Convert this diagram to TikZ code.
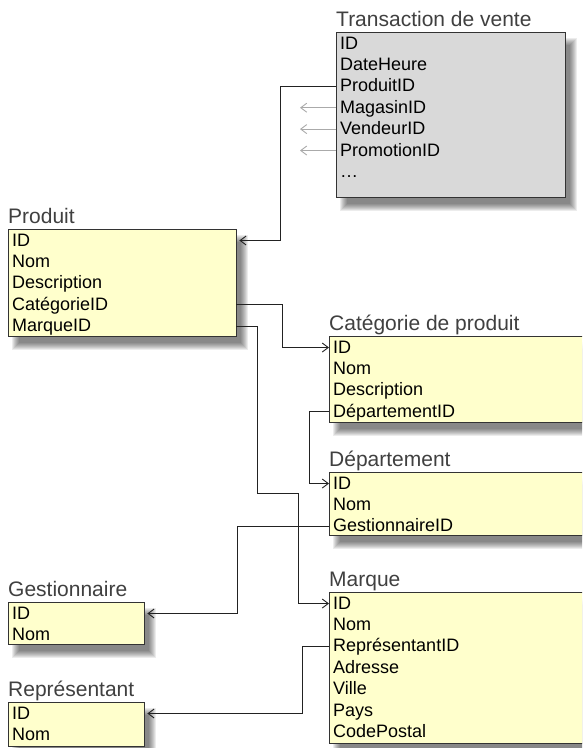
\documentclass[tikz,border=0pt]{standalone}
\usepackage{fontspec}
\setmainfont{Liberation Sans}
\usetikzlibrary{arrows.meta}

\definecolor{rowfill}{RGB}{255,255,204}
\definecolor{factfill}{RGB}{217,217,217}
\definecolor{boxedge}{RGB}{51,51,51}
\definecolor{titlegray}{RGB}{64,64,64}
\definecolor{linkgray}{RGB}{34,34,34}
\definecolor{faintlink}{RGB}{170,170,170}

% One table: #1 prefix, #2 left, #3 top, #4 right, #5 bottom, #6 fill, #7 title, #8 rows
\newcommand\erdtable[8]{%
  \foreach \k in {0,...,7}{
    \fill[black,opacity=0.075] (#2+4+\k,#3+6+\k) rectangle (#4+12-\k,#5+14-\k);
  }
  \draw[boxline,fill=#6] (#2,#3) rectangle (#4,#5);
  \node[titletext,anchor=base west] (#1-title) at (#2,#3-6) {#7};
  \pgfmathsetlengthmacro\rowwidth{#4-#2-8}
  \foreach \txt [count=\i] in {#8}{
    \pgfmathsetmacro\yy{#3+17+21.4*(\i-1)}
    \node[rowtext,anchor=base west] (#1-\i) at (#2,\yy) {\makebox[\rowwidth][l]{\txt}};
  }
}

\begin{document}
\begin{tikzpicture}[x=1pt,y=-1pt,
  boxline/.style={draw=boxedge,line width=0.9pt},
  titletext/.style={inner sep=0pt,text=titlegray,font=\fontsize{21}{24}\selectfont},
  rowtext/.style={inner xsep=4pt,inner ysep=0pt,text height=14pt,text depth=3pt,
    font=\fontsize{18}{21}\selectfont},
  conn/.style={draw=linkgray,line width=0.9pt,
    -{Straight Barb[length=6pt,width=9pt,line width=0.9pt]}},
  faintconn/.style={draw=faintlink,line width=0.9pt,
    -{Straight Barb[length=6pt,width=9pt,line width=0.9pt]}}]
\useasboundingbox (0,0) rectangle (582,748);
\clip (0,0) rectangle (582,748);
\fill[white] (0,0) rectangle (582,748);

\erdtable{tv}{336}{32}{565}{197}{factfill}{Transaction de vente}
  {ID,DateHeure,ProduitID,MagasinID,VendeurID,PromotionID,…}
\erdtable{pr}{8}{229}{236}{336}{rowfill}{Produit}
  {ID,Nom,Description,CatégorieID,MarqueID}
\erdtable{cat}{329}{336}{600}{422}{rowfill}{Catégorie de produit}
  {ID,Nom,Description,DépartementID}
\erdtable{dp}{329}{472}{600}{535}{rowfill}{Département}
  {ID,Nom,GestionnaireID}
\erdtable{ge}{8}{602}{144}{644}{rowfill}{Gestionnaire}
  {ID,Nom}
\erdtable{mq}{329}{592}{600}{743}{rowfill}{Marque}
  {ID,Nom,ReprésentantID,Adresse,Ville,Pays,CodePostal}
\erdtable{re}{8}{702}{144}{746}{rowfill}{Représentant}
  {ID,Nom}

% foreign keys
\coordinate (mq-jog) at (298,493);
\draw[conn,shorten >=3pt] (tv-3.west) -- ++(-56,0) |- (pr-1.east);
\draw[conn] (pr-4.east) -- ++(46,0) |- (cat-1.west);
\draw[conn] (pr-5.east) -- ++(21,0) |- (mq-jog) |- (mq-1.west);
\draw[conn] (cat-4.west) -- ++(-20,0) |- (dp-1.west);
\draw[conn,shorten >=3pt] (dp-3.west) -- ++(-92,0) |- (ge-1.east);
\draw[conn,shorten >=3pt] (mq-3.west) -- ++(-27,0) |- (re-1.east);

% keys to tables that are not shown
\draw[faintconn] (tv-4.west) -- ++(-36,0);
\draw[faintconn] (tv-5.west) -- ++(-36,0);
\draw[faintconn] (tv-6.west) -- ++(-36,0);
\end{tikzpicture}
\end{document}
